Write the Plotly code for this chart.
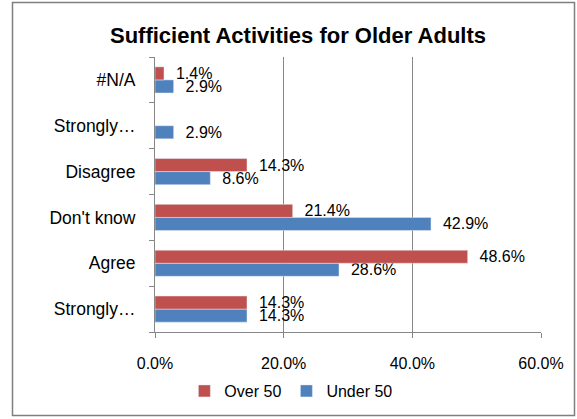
import plotly.graph_objects as go

# Categories (bottom to top) and their displayed tick labels
categories = ["Strongly agree", "Agree", "Don't know", "Disagree", "Strongly disagree", "#N/A"]
tick_labels = ["Strongly…", "Agree", "Don't know", "Disagree", "Strongly…", "#N/A"]

# Series values (fractions)
over_50 = [0.143, 0.486, 0.214, 0.143, None, 0.014]
under_50 = [0.143, 0.286, 0.429, 0.086, 0.029, 0.029]

x_ticks = [0, 0.2, 0.4, 0.6]

RED = "#C0504D"
BLUE = "#4F81BD"
GRID = "#878787"
FONT = "Liberation Sans, Arial, sans-serif"

fig = go.Figure()

fig.add_trace(go.Bar(
    name="Under 50", y=categories, x=under_50, orientation="h",
    marker=dict(color=BLUE),
    texttemplate="\u00a0\u00a0%{x:.1%}", textposition="outside",
    textfont=dict(family=FONT, size=16, color="black"),
    constraintext="none", cliponaxis=False, legendrank=2,
))
fig.add_trace(go.Bar(
    name="Over 50", y=categories, x=over_50, orientation="h",
    marker=dict(color=RED),
    texttemplate="\u00a0\u00a0%{x:.1%}", textposition="outside",
    textfont=dict(family=FONT, size=16, color="black"),
    constraintext="none", cliponaxis=False, legendrank=1,
))

fig.update_layout(
    width=577, height=419,
    margin=dict(l=155, r=36, t=57, b=87, autoexpand=False),
    paper_bgcolor="white", plot_bgcolor="white",
    barmode="group", bargap=0.43, bargroupgap=0,
    font=dict(family=FONT, size=16, color="black"),
    title=dict(
        text="Sufficient Activities for Older Adults",
        font=dict(family=FONT, size=22, color="black", weight="bold"),
        x=298 / 577, xref="container", xanchor="center",
        y=1 - 35 / 419, yref="container", yanchor="middle",
    ),
    showlegend=True,
    legend=dict(
        orientation="h", x=0.352, xanchor="center", y=-0.2145, yanchor="middle",
        font=dict(family=FONT, size=16), itemwidth=30,
        traceorder="normal",
    ),
    xaxis=dict(
        range=[0, 0.6], tickvals=x_ticks, tickformat=".1%",
        showgrid=True, gridcolor=GRID, gridwidth=1,
        showline=True, linecolor=GRID, linewidth=1,
        ticks="outside", ticklen=5, tickcolor=GRID,
        zeroline=False, ticklabelstandoff=12, automargin=False,
        tickfont=dict(family=FONT, size=16),
    ),
    yaxis=dict(
        categoryorder="array", categoryarray=categories,
        tickvals=categories, ticktext=tick_labels,
        showline=True, linecolor=GRID, linewidth=1,
        ticks="outside", ticklen=5, tickcolor=GRID, tickson="boundaries",
        showgrid=False, ticklabelstandoff=15, automargin=False,
        tickfont=dict(family=FONT, size=17.5),
    ),
    shapes=[dict(
        type="rect", xref="paper", yref="paper",
        x0=(12.5 - 155) / 386, x1=(574.5 - 155) / 386,
        y0=(332 - 415.5) / 275, y1=(332 - 2.5) / 275,
        line=dict(color="#7F7F7F", width=1.5), layer="above",
    )],
)

fig.write_html(
    "out.html",
    config={"displayModeBar": False},
    post_script="document.body.style.margin='0px';document.body.style.overflow='hidden';",
)
